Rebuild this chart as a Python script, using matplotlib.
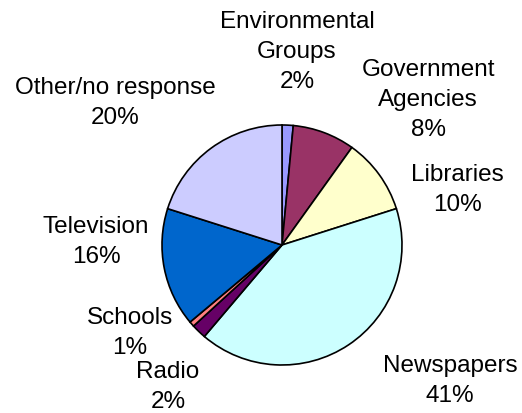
import matplotlib
matplotlib.use("Agg")
import matplotlib.pyplot as plt

plt.rcParams['font.family'] = ['Liberation Sans', 'DejaVu Sans']

# slices, clockwise from 12 o'clock
names = ['Environmental\nGroups', 'Government\nAgencies', 'Libraries', 'Newspapers',
         'Radio', 'Schools', 'Television', 'Other/no response']
shares = [1.5, 8.4, 10.2, 41.1, 2.0, 0.7, 16.0, 20.1]
colors = ['#9999FF', '#993366', '#FFFFCC', '#CCFFFF',
          '#660066', '#FF8080', '#0066CC', '#CCCCFF']

# label centres in pixels (x, y from top)
label_pos = [(297, 52), (428, 100), (457, 190), (450, 381),
             (168, 387), (130, 333), (96, 242), (115, 103)]

W, H = 522, 414
fig = plt.figure(figsize=(W / 100, H / 100), dpi=100)
ax = fig.add_axes([0, 0, 1, 1])

ax.pie(shares, colors=colors, startangle=90, counterclock=False,
       center=(282, H - 246), radius=120,
       wedgeprops=dict(edgecolor='black', linewidth=1.2))

for name, v, (x, y) in zip(names, shares, label_pos):
    ax.text(x, H - y, f"{name}\n{round(v):.0f}%", ha='center', va='center',
            fontsize=17.5, linespacing=1.5, color='black')

ax.set_xlim(0, W)
ax.set_ylim(0, H)
ax.set_aspect('equal')
ax.axis('off')

fig.savefig('out.png', dpi=100)
